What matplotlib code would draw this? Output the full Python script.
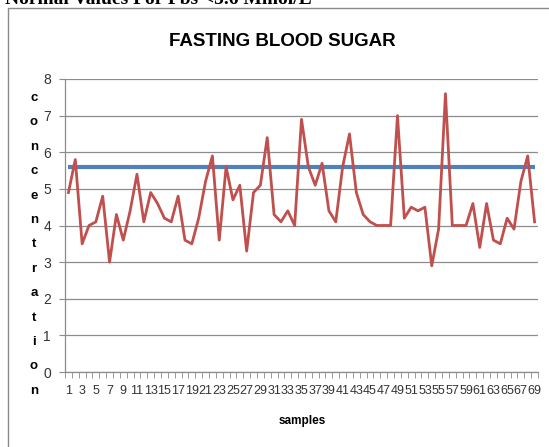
import matplotlib
matplotlib.use("Agg")
import matplotlib.pyplot as plt
from matplotlib.patches import Rectangle
from matplotlib import font_manager

# fasting blood sugar per sample (mmol/L)
samples = list(range(1, 70))
fbs = [4.9, 5.8, 3.5, 4.0, 4.1, 4.8, 3.0, 4.3, 3.6, 4.4,
       5.4, 4.1, 4.9, 4.6, 4.2, 4.1, 4.8, 3.6, 3.5, 4.2,
       5.2, 5.9, 3.6, 5.6, 4.7, 5.1, 3.3, 4.9, 5.1, 6.4,
       4.3, 4.1, 4.4, 4.0, 6.9, 5.6, 5.1, 5.7, 4.4, 4.1,
       5.6, 6.5, 4.9, 4.3, 4.1, 4.0, 4.0, 4.0, 7.0, 4.2,
       4.5, 4.4, 4.5, 2.9, 3.9, 7.6, 4.0, 4.0, 4.0, 4.6,
       3.4, 4.6, 3.6, 3.5, 4.2, 3.9, 5.2, 5.9, 4.1]
normal_limit = [5.6] * len(samples)
y_ticks = list(range(0, 9))
ylabel_text = "concentration"


def has_font(name):
    try:
        font_manager.findfont(font_manager.FontProperties(family=name),
                              fallback_to_default=False)
        return True
    except ValueError:
        return False


# narrow sans if present, else Arial-metric sans at a smaller size
if has_font("Liberation Sans Narrow"):
    sans, scale = "Liberation Sans Narrow", 1.2
else:
    sans, scale = "Liberation Sans", 1.0

W, H = 549, 447
fig = plt.figure(figsize=(W / 100, H / 100), dpi=100)

# outer chart frame (runs off the right and bottom edges)
fig.patches.append(Rectangle((8 / W, -0.1), 1.2, 1.1 - 8 / H,
                             transform=fig.transFigure, fill=False,
                             edgecolor="#8a8a8a", lw=1))

fig.text(5 / W, 1 - 3.5 / H, "Normal Values For Fbs <5.6 Mmol/L",
         family="Liberation Serif", fontweight="bold", fontsize=14,
         va="baseline", ha="left")

ax = fig.add_axes([65 / W, 1 - 372 / H, (538 - 65) / W, (372 - 79) / H])
ax.plot(samples, normal_limit, color="#4F81BD", lw=3, solid_capstyle="butt")
ax.plot(samples, fbs, color="#C0504D", lw=2)

ax.set_xlim(0.5, len(samples) + 0.5)
ax.set_ylim(0, 8)
ax.set_yticks(y_ticks)
ax.yaxis.grid(True, color="#8c8c8c", lw=0.9)
ax.set_axisbelow(True)

ax.set_xticks(samples[::2])
ax.set_xticklabels([str(s) for s in samples[::2]])
ax.set_xticks([s + 0.5 for s in [0] + samples], minor=True)
ax.tick_params(axis="x", which="major", length=0, pad=9)
ax.tick_params(axis="x", which="minor", length=4, color="#8c8c8c", direction="out")
ax.tick_params(axis="y", length=4, color="#8c8c8c", pad=6)
for lab in ax.get_xticklabels():
    lab.set_family(sans)
    lab.set_fontsize(9 * scale)
    lab.set_color("#333333")
for lab in ax.get_yticklabels():
    lab.set_family(sans)
    lab.set_fontsize(10 * scale)
    lab.set_color("#333333")

for side in ["top", "right"]:
    ax.spines[side].set_visible(False)
for side in ["left", "bottom"]:
    ax.spines[side].set_color("#8c8c8c")
    ax.spines[side].set_linewidth(0.9)

fig.text(282 / W, 1 - 42 / H, "FASTING BLOOD SUGAR", family=sans,
         fontweight="bold", fontsize=13.5 * scale, ha="center", va="center")
fig.text(302 / W, 1 - 421 / H, "samples", family=sans,
         fontweight="bold", fontsize=8.5 * scale, ha="center", va="center")

# vertical stacked y label, one letter per line
for i, ch in enumerate(ylabel_text):
    fig.text(34 / W, 1 - (98 + i * 24.4) / H, ch, family=sans,
             fontweight="bold", fontsize=9.5 * scale, ha="center", va="center")

fig.savefig("out.png", dpi=100)
